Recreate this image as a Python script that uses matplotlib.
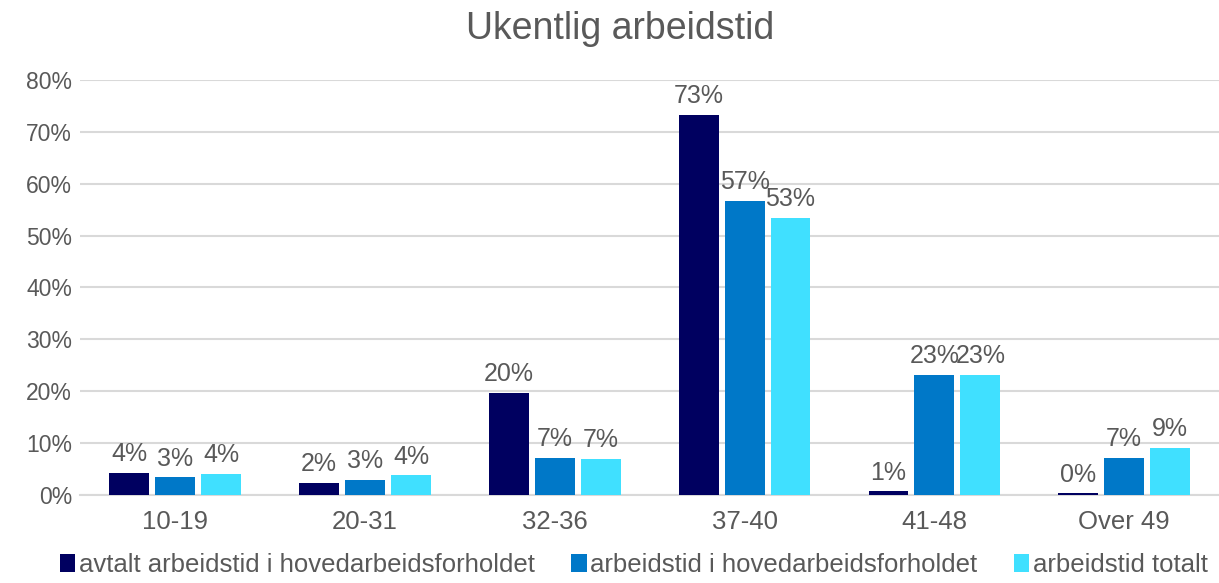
import matplotlib.pyplot as plt
import numpy as np

plt.rcParams['font.family'] = ['Liberation Sans', 'DejaVu Sans']

categories = ['10-19', '20-31', '32-36', '37-40', '41-48', 'Over 49']
series_names = ['avtalt arbeidstid i hovedarbeidsforholdet',
                'arbeidstid i hovedarbeidsforholdet',
                'arbeidstid totalt']
avtalt = [4.2, 2.4, 19.7, 73.2, 0.7, 0.3]
hoved = [3.4, 2.9, 7.1, 56.7, 23.1, 7.2]
totalt = [4.0, 3.8, 6.9, 53.4, 23.2, 9.1]
colors = ['#000060', '#0078C8', '#40E0FF']

text_col = '#595959'
grid_col = '#D9D9D9'

fig = plt.figure(figsize=(12.19, 5.83), dpi=100)
ax = fig.add_axes([0.066, 0.151, 0.934, 0.712])

x = np.arange(len(categories))
w = 0.21
step = 0.242
for i, (vals, c, name) in enumerate(zip([avtalt, hoved, totalt], colors, series_names)):
    pos = x + (i - 1) * step
    bars = ax.bar(pos, vals, w, color=c, label=name, zorder=3)
    for p, v in zip(pos, vals):
        ax.text(p, v + 1.3, f'{round(v):.0f}%', ha='center', va='bottom',
                fontsize=18, color=text_col)

ax.set_ylim(0, 80)
ax.set_xlim(-0.5, len(categories) - 0.5)
ax.set_yticks(range(0, 81, 10))
ax.set_yticklabels([f'{t}%' for t in range(0, 81, 10)])
ax.set_xticks(x)
ax.set_xticklabels(categories)
ax.tick_params(axis='both', length=0, colors=text_col)
ax.tick_params(axis='y', labelsize=16.5, pad=6)
ax.tick_params(axis='x', labelsize=18.5, pad=11)
ax.yaxis.grid(True, color=grid_col, linewidth=1.5, zorder=0)
for s in ['top', 'right', 'left']:
    ax.spines[s].set_visible(False)
ax.spines['bottom'].set_color(grid_col)
ax.spines['bottom'].set_linewidth(1.5)

fig.text(0.509, 0.95, 'Ukentlig arbeidstid', ha='center', va='center',
         fontsize=27, color=text_col)

leg = fig.legend(loc='lower center', bbox_to_anchor=(0.52, -0.03), ncol=3,
                 frameon=False, fontsize=18.5, handlelength=0.6, handleheight=0.7,
                 handletextpad=0.15, columnspacing=1.4, labelcolor=text_col)

fig.savefig('out.png', dpi=100)
